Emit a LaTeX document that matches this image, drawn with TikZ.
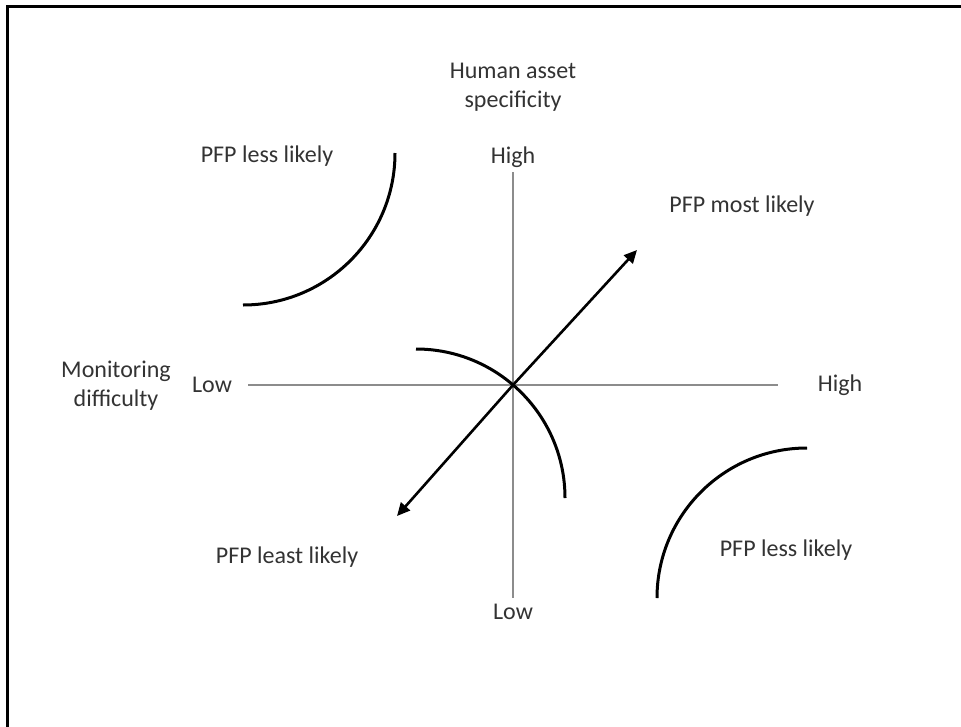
\documentclass[tikz,border=0pt]{standalone}
\usepackage{fontspec}
\setmainfont{Carlito}
\usetikzlibrary{arrows.meta}
\begin{document}
\begin{tikzpicture}[x=1pt,y=-1pt,
  lbl/.style={font=\fontsize{24}{29}\selectfont, text=black!80, inner sep=0pt, align=center},
  axis/.style={draw=black!45, line width=2pt},
  curve/.style={draw=black, line width=3pt},
  arr/.style={draw=black, line width=2.6pt, -{Triangle[length=13pt,width=12pt]}}]
\useasboundingbox (0,0) rectangle (961,726);
% frame (right and bottom sides lie outside the picture)
\draw[line width=3pt] (7.5,730) -- (7.5,6.5) -- (965,6.5);
% coordinates
\coordinate (O) at (513,385);
\coordinate (vt) at (513,172);
\coordinate (vb) at (513,598);
\coordinate (hl) at (248,385);
\coordinate (hr) at (778,385);
\coordinate (aS) at (397,516);
\coordinate (aE) at (637,250);
% axes
\draw[axis] (vt) -- (vb);
\draw[axis] (hl) -- (hr);
% central arc
\draw[curve] (416,349) arc[start angle=90, end angle=0, radius=149pt];
% upper-left arc
\draw[curve] (395,153) arc[start angle=0, end angle=-90, radius=152pt];
% lower-right arc
\draw[curve] (657,598) arc[start angle=180, end angle=90, radius=150pt];
% diagonal arrows
\draw[arr] (O) -- (aE);
\draw[arr] (O) -- (aS);
% labels
\node[lbl] (title) at (513,87) {Human asset\\specificity};
\node[lbl] (hiV) at (513,157) {High};
\node[lbl] (loV) at (513,612) {Low};
\node[lbl] (mon) at (116,386) {Monitoring\\difficulty};
\node[lbl] (loH) at (212,385) {Low};
\node[lbl] (hiH) at (840,385) {High};
\node[lbl] (ul) at (267,156) {PFP less likely};
\node[lbl] (ur) at (742,206) {PFP most likely};
\node[lbl] (ll) at (287,557) {PFP least likely};
\node[lbl] (lr) at (786,550) {PFP less likely};
\end{tikzpicture}
\end{document}
